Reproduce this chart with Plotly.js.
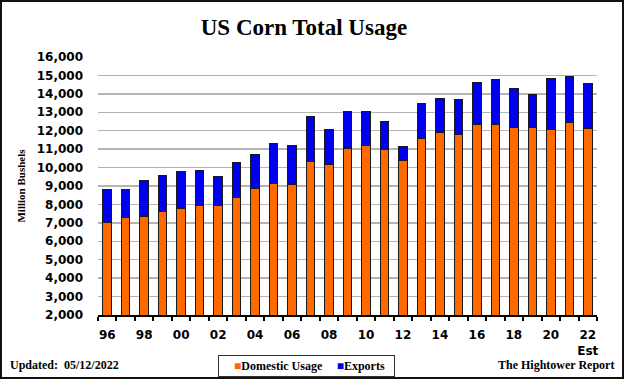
<!DOCTYPE html>
<html>
<head>
<meta charset="utf-8">
<script src="https://cdn.plot.ly/plotly-3.0.1.min.js"></script>
<style>
  html, body { margin: 0; padding: 0; background: #fff; }
  #frame { width: 624px; height: 379px; box-sizing: border-box; border: 2px solid #111; overflow: hidden; }
  #chart { width: 620px; height: 375px; }
</style>
</head>
<body>
<div id="frame"><div id="chart"></div></div>
<script>
// Marketing years (2-digit), 1996/97 through 2022/23 (Est)
const years = ['96','97','98','99','00','01','02','03','04','05','06','07','08','09',
               '10','11','12','13','14','15','16','17','18','19','20','21','22'];
// Million bushels
const domesticUsage = [7020, 7280, 7330, 7600, 7790, 7950, 7950, 8350, 8850, 9130, 9090, 10320, 10190, 11040,
                       11190, 10970, 10380, 11570, 11890, 11790, 12350, 12340, 12200, 12200, 12060, 12440, 12140];
const exportsUsage  = [1780, 1520, 1990, 1960, 1990, 1880, 1550, 1900, 1850, 2170, 2120, 2440, 1850, 2010,
                       1860, 1540, 740, 1900, 1880, 1890, 2290, 2430, 2080, 1770, 2760, 2480, 2430];
const tickLabels = years.map((y, i) => i % 2 === 0 ? y : '');
tickLabels[tickLabels.length - 1] = '22<br>Est';
const seriesNames = ['Domestic Usage', 'Exports'];
const seriesColors = ['#FF6A00', '#0000F0'];

const serif = 'Liberation Serif, Times New Roman, serif';
const sans = 'DejaVu Sans, Verdana, sans-serif';

const traces = [
  { type: 'bar', name: seriesNames[0], x: years, y: domesticUsage, showlegend: false,
    marker: { color: seriesColors[0], line: { color: '#1a1a1a', width: 1 } } },
  { type: 'bar', name: seriesNames[1], x: years, y: exportsUsage, showlegend: false,
    marker: { color: seriesColors[1], line: { color: '#1a1a1a', width: 1 } } }
];

const legendText = '\u2003' + seriesNames.map((n, i) =>
  '<span style="color:' + seriesColors[i] + '">■</span><b>' + n + '</b>')
  .join('\u2003\u2009') + '\u2002';

const layout = {
  width: 620, height: 375,
  margin: { l: 96, r: 25, t: 55, b: 62 },
  paper_bgcolor: '#fff', plot_bgcolor: '#fff',
  barmode: 'stack', bargap: 0.54,
  showlegend: false,
  title: { text: '<b>US Corn Total Usage</b>', font: { family: serif, size: 23, color: '#000' },
           x: 0.487, xref: 'container', y: 0.933, yref: 'container', yanchor: 'middle', xanchor: 'center' },
  xaxis: {
    type: 'category', tickmode: 'array', tickvals: years, ticktext: tickLabels,
    tickson: 'boundaries', ticks: 'outside', ticklen: 4, tickwidth: 2, tickcolor: '#000',
    tickangle: 0, automargin: false,
    showline: true, linecolor: '#000', linewidth: 2, showgrid: false, zeroline: false,
    tickfont: { family: sans, size: 12, color: '#000', weight: 'bold' },
    ticklabelstandoff: 8, fixedrange: true
  },
  yaxis: {
    range: [2000, 16000], dtick: 1000, tickformat: ',d', automargin: false,
    showgrid: true, gridcolor: '#b4b4b4', gridwidth: 1.5,
    showline: false, zeroline: false, ticks: '',
    tickfont: { family: sans, size: 12, color: '#000', weight: 'bold' },
    ticklabelstandoff: 14,
    title: { text: '<b>Million Bushels</b>', font: { family: serif, size: 11, color: '#000' }, standoff: 8 },
    fixedrange: true
  },
  annotations: [
    { text: legendText, xref: 'paper', yref: 'paper', x: 0.417, y: -0.197,
      xanchor: 'center', yanchor: 'middle', showarrow: false,
      bordercolor: '#333', borderwidth: 1, borderpad: 3, bgcolor: '#fff',
      font: { family: serif, size: 12, color: '#000' } },
    { text: '<b>Updated:  05/12/2022</b>', xref: 'paper', yref: 'paper', x: -0.18, y: -0.194,
      xanchor: 'left', yanchor: 'middle', showarrow: false, font: { family: serif, size: 12, color: '#000' } },
    { text: '<b>The Hightower Report</b>', xref: 'paper', yref: 'paper', x: 1.038, y: -0.194,
      xanchor: 'right', yanchor: 'middle', showarrow: false, font: { family: serif, size: 12, color: '#000' } }
  ]
};

Plotly.newPlot('chart', traces, layout, { displayModeBar: false, staticPlot: true });
</script>
</body>
</html>
